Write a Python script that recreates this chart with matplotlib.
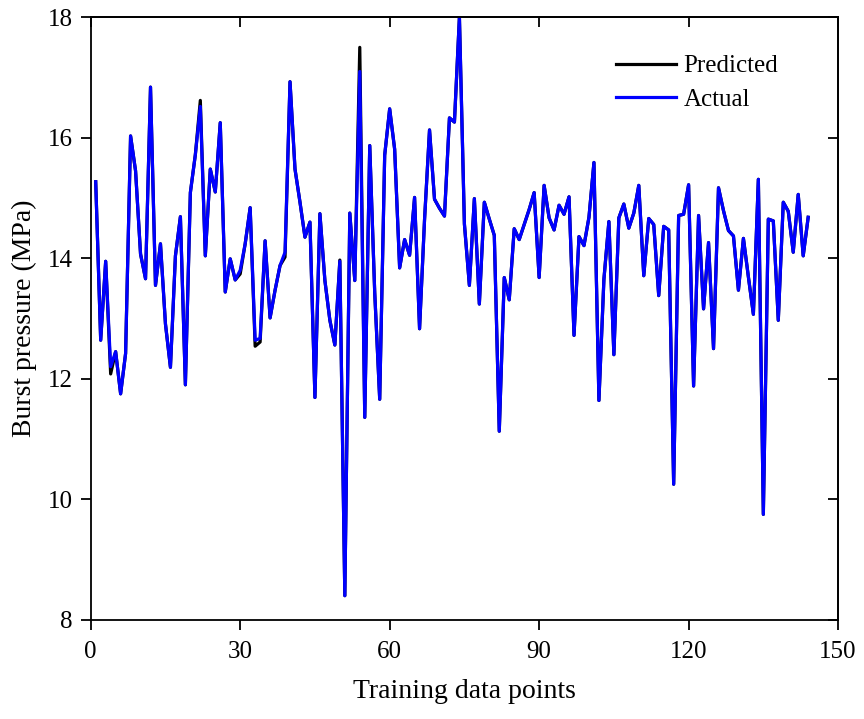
import matplotlib
matplotlib.use("Agg")
import matplotlib.pyplot as plt

plt.rcParams["font.family"] = ["Liberation Serif", "DejaVu Serif"]

points = list(range(1, 145))

actual = [
    15.27, 12.64, 13.95, 12.20, 12.45, 11.75, 12.42, 16.03, 15.45, 14.07,
    13.66, 16.84, 13.55, 14.24, 12.91, 12.19, 14.04, 14.69, 11.90, 15.09,
    15.72, 16.52, 14.04, 15.48, 15.10, 16.25, 13.44, 13.99, 13.64, 13.80,
    14.24, 14.84, 12.64, 12.67, 14.29, 13.01, 13.47, 13.88, 14.10, 16.93,
    15.48, 14.93, 14.35, 14.60, 11.69, 14.74, 13.63, 12.97, 12.56, 13.95,
    8.40, 14.75, 13.63, 17.10, 11.36, 15.87, 13.43, 11.66, 15.71, 16.48,
    15.81, 13.84, 14.31, 14.05, 15.01, 12.83, 14.64, 16.13, 14.98, 14.83,
    14.70, 16.33, 16.26, 18.00, 14.57, 13.55, 14.99, 13.24, 14.93, 14.65,
    14.38, 11.13, 13.68, 13.31, 14.49, 14.31, 14.56, 14.81, 15.09, 13.68,
    15.21, 14.67, 14.47, 14.88, 14.73, 15.02, 12.72, 14.36, 14.21, 14.68,
    15.59, 11.64, 13.65, 14.61, 12.40, 14.67, 14.90, 14.50, 14.75, 15.21,
    13.71, 14.66, 14.56, 13.38, 14.53, 14.47, 10.25, 14.71, 14.73, 15.22,
    11.88, 14.71, 13.16, 14.26, 12.50, 15.17, 14.79, 14.46, 14.37, 13.47,
    14.33, 13.69, 13.07, 15.31, 9.75, 14.65, 14.62, 12.97, 14.93, 14.78,
    14.10, 15.06, 14.04, 14.68,
]

predicted = [
    15.27, 12.64, 13.95, 12.08, 12.45, 11.75, 12.42, 16.03, 15.45, 14.07,
    13.66, 16.84, 13.55, 14.24, 12.91, 12.19, 14.04, 14.69, 11.90, 15.09,
    15.72, 16.62, 14.04, 15.48, 15.10, 16.25, 13.44, 13.99, 13.64, 13.74,
    14.24, 14.84, 12.54, 12.61, 14.29, 13.01, 13.47, 13.88, 14.02, 16.93,
    15.48, 14.93, 14.35, 14.60, 11.69, 14.74, 13.63, 12.97, 12.56, 13.97,
    8.40, 14.75, 13.63, 17.50, 11.36, 15.87, 13.43, 11.66, 15.71, 16.48,
    15.81, 13.84, 14.31, 14.05, 15.01, 12.83, 14.64, 16.13, 14.98, 14.83,
    14.70, 16.33, 16.26, 18.00, 14.57, 13.55, 14.99, 13.24, 14.93, 14.65,
    14.38, 11.13, 13.68, 13.31, 14.49, 14.31, 14.56, 14.81, 15.09, 13.68,
    15.21, 14.67, 14.47, 14.88, 14.73, 15.02, 12.72, 14.36, 14.21, 14.68,
    15.59, 11.64, 13.65, 14.61, 12.40, 14.67, 14.90, 14.50, 14.75, 15.21,
    13.71, 14.66, 14.56, 13.38, 14.53, 14.47, 10.25, 14.71, 14.73, 15.22,
    11.88, 14.71, 13.16, 14.26, 12.50, 15.17, 14.79, 14.46, 14.37, 13.47,
    14.33, 13.69, 13.07, 15.31, 9.75, 14.65, 14.62, 12.97, 14.93, 14.78,
    14.10, 15.06, 14.04, 14.68,
]

xticks = [0, 30, 60, 90, 120, 150]
yticks = [8, 10, 12, 14, 16, 18]

fig = plt.figure(figsize=(8.64, 7.19), dpi=100)
ax = fig.add_axes([0.105, 0.138, 0.865, 0.838])

ax.plot(points, predicted, color="black", linewidth=2.3, label="Predicted")
ax.plot(points, actual, color="#0000ff", linewidth=2.3, label="Actual")

ax.set_xlim(0, 150)
ax.set_ylim(8, 18)
ax.set_xticks(xticks)
ax.set_yticks(yticks)
ax.set_xlabel("Training data points", fontsize=20, labelpad=12)
ax.set_ylabel("Burst pressure (MPa)", fontsize=20, labelpad=8)
ax.tick_params(direction="out", length=7, width=1.3, labelsize=18, pad=8)
ax.tick_params(axis="y", pad=6)

# mirrored ticks on top/right pointing into the plot, Origin style
top = ax.secondary_xaxis("top")
top.set_xticks(xticks)
top.tick_params(direction="in", length=7, width=1.3, labeltop=False)
right = ax.secondary_yaxis("right")
right.set_yticks(yticks)
right.tick_params(direction="in", length=7, width=1.3, labelright=False)

for s in ax.spines.values():
    s.set_linewidth(1.3)
for a in (top, right):
    for s in a.spines.values():
        s.set_linewidth(1.3)

leg = ax.legend(loc="upper right", frameon=False, fontsize=18,
                handlelength=2.4, handletextpad=0.3, labelspacing=0.45,
                bbox_to_anchor=(0.95, 0.975))

fig.savefig("out.png", dpi=100)
